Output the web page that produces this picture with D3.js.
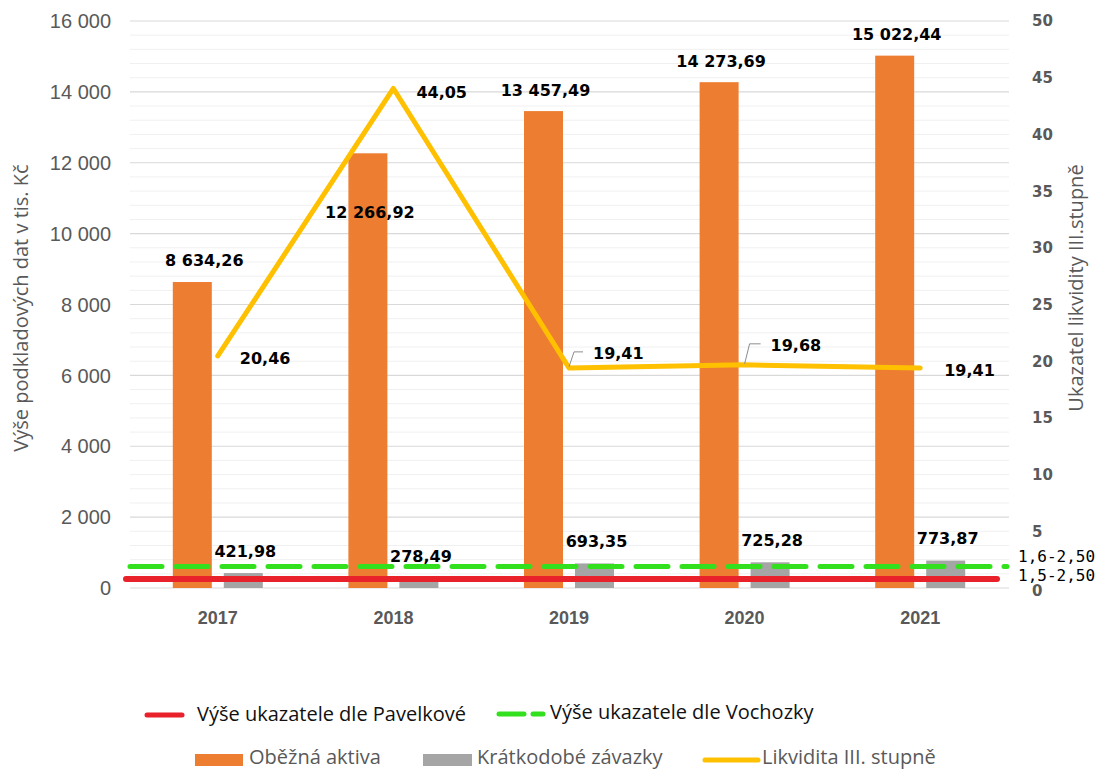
<!DOCTYPE html>
<html lang="cs">
<head>
<meta charset="UTF-8">
<title>Likvidita III. stupně</title>
<style>
  body { margin: 0; background: #fff; }
  svg { display: block; }
  .tick-l { font-family: 'Liberation Sans', Arial, sans-serif; font-size: 20px; fill: #595959; }
  .tick-r { font-family: 'DejaVu Sans', sans-serif; font-weight: bold; font-size: 15px; fill: #595959; }
  .tick-x { font-family: 'Liberation Sans', Arial, sans-serif; font-weight: bold; font-size: 18px; fill: #595959; }
  .axis-title { font-family: 'Open Sans', sans-serif; font-size: 20px; fill: #595959; }
  .val { font-family: 'DejaVu Sans', sans-serif; font-weight: bold; font-size: 16px; fill: #000; }
  .thr { font-family: 'DejaVu Sans Mono', monospace; font-size: 16px; fill: #000; }
  .leg { font-family: 'Open Sans', sans-serif; font-size: 20px; }
</style>
</head>
<body>
<svg id="chart" width="1099" height="771"></svg>
<script src="https://cdn.jsdelivr.net/npm/d3@7"></script>
<script>
// data
const years = ["2017", "2018", "2019", "2020", "2021"];
const obeznaAktiva = [8634.26, 12266.92, 13457.49, 14273.69, 15022.44];
const kratkodobeZavazky = [421.98, 278.49, 693.35, 725.28, 773.87];
const likvidita = [20.46, 44.05, 19.41, 19.68, 19.41];
const leftTicks = [0, 2000, 4000, 6000, 8000, 10000, 12000, 14000, 16000];
const rightTicks = [0, 5, 10, 15, 20, 25, 30, 35, 40, 45, 50];
// benchmark lines (read on the secondary axis)
const pavelkova = 0.8, pavelkovaLabel = "1,5-2,50";
const vochozka = 1.9, vochozkaLabel = "1,6-2,50";

const W = 1099, H = 771;
const plot = { left: 130, right: 1009, top: 21, bottom: 588 };
const colors = { orange: "#ED7D31", gray: "#A5A5A5", yellow: "#FFC000", red: "#E8212A", green: "#33E01E" };

const loc = d3.formatLocale({ decimal: ",", thousands: "\u00a0", grouping: [3], currency: ["", ""] });
const fmt2 = loc.format(",.2f");
const fmt0 = loc.format(",.0f");

const svg = d3.select("#chart");
svg.append("rect").attr("width", W).attr("height", H).attr("fill", "#fff");

const x = d3.scaleBand().domain(years).range([plot.left, plot.right - 1]);
const yL = d3.scaleLinear().domain([0, 16000]).range([plot.bottom, plot.top]);
const yR = d3.scaleLinear().domain([0, 50]).range([plot.bottom, plot.top]);
const xc = d => x(d) + x.bandwidth() / 2;

// gridlines: minor every 400, major every 2000
const minor = d3.range(0, 16001, 400).filter(v => v % 2000 !== 0);
svg.append("g").selectAll("line").data(minor).join("line")
  .attr("x1", plot.left).attr("x2", plot.right)
  .attr("y1", d => yL(d)).attr("y2", d => yL(d))
  .attr("stroke", "#f0f0f0").attr("stroke-width", 1);
svg.append("g").selectAll("line").data(leftTicks).join("line")
  .attr("x1", plot.left).attr("x2", plot.right)
  .attr("y1", d => yL(d)).attr("y2", d => yL(d))
  .attr("stroke", "#d9d9d9").attr("stroke-width", 1.2);

// left axis labels
svg.append("g").selectAll("text").data(leftTicks).join("text")
  .attr("class", "tick-l")
  .attr("x", 111).attr("y", d => yL(d)).attr("dy", "0.36em")
  .attr("text-anchor", "end")
  .text(d => fmt0(d));

// right axis labels
svg.append("g").selectAll("text").data(rightTicks).join("text")
  .attr("class", "tick-r")
  .attr("x", 1032).attr("y", d => yR(d)).attr("dy", d => d === 0 ? "0.55em" : "0.36em")
  .text(d => d);

// axis titles
svg.append("text").attr("class", "axis-title")
  .attr("transform", "translate(28,308) rotate(-90)")
  .attr("text-anchor", "middle")
  .text("Výše podkladových dat v tis. Kč");
svg.append("text").attr("class", "axis-title")
  .attr("transform", "translate(1083,288) rotate(-90)")
  .attr("text-anchor", "middle")
  .text("Ukazatel likvidity III.stupně");

// bars
const barW = 39, gap = 6;
svg.append("g").selectAll("rect").data(years).join("rect")
  .attr("x", d => xc(d) - gap - barW)
  .attr("width", barW)
  .attr("y", (d, i) => yL(obeznaAktiva[i]))
  .attr("height", (d, i) => yL(0) - yL(obeznaAktiva[i]))
  .attr("fill", colors.orange);
svg.append("g").selectAll("rect").data(years).join("rect")
  .attr("x", d => xc(d) + gap)
  .attr("width", barW)
  .attr("y", (d, i) => yL(kratkodobeZavazky[i]))
  .attr("height", (d, i) => yL(0) - yL(kratkodobeZavazky[i]))
  .attr("fill", colors.gray);

// benchmark lines
svg.append("line")
  .attr("x1", plot.left - 4).attr("x2", plot.right - 12)
  .attr("y1", yR(pavelkova)).attr("y2", yR(pavelkova))
  .attr("stroke", colors.red).attr("stroke-width", 6).attr("stroke-linecap", "round");
svg.append("line")
  .attr("x1", plot.left).attr("x2", plot.right - 2)
  .attr("y1", yR(vochozka)).attr("y2", yR(vochozka))
  .attr("stroke", colors.green).attr("stroke-width", 5)
  .attr("stroke-dasharray", "32 14").attr("stroke-linecap", "round");
svg.append("text").attr("class", "thr")
  .attr("x", 1018).attr("y", yR(vochozka) - 10).attr("dy", "0.35em").text(vochozkaLabel);
svg.append("text").attr("class", "thr")
  .attr("x", 1018).attr("y", yR(pavelkova) - 4).attr("dy", "0.35em").text(pavelkovaLabel);

// liquidity line
const line = d3.line().x((d, i) => xc(years[i])).y(d => yR(d));
svg.append("path").datum(likvidita)
  .attr("d", line)
  .attr("fill", "none")
  .attr("stroke", colors.yellow).attr("stroke-width", 5)
  .attr("stroke-linejoin", "round").attr("stroke-linecap", "round");

// data labels
const orangeShift = [[12, -22], [2, 59], [2, -21], [2, -21], [2, -21]];
svg.append("g").selectAll("text").data(years).join("text")
  .attr("class", "val").attr("text-anchor", "middle").attr("dy", "0.36em")
  .attr("x", (d, i) => xc(d) - gap - barW / 2 + orangeShift[i][0])
  .attr("y", (d, i) => yL(obeznaAktiva[i]) + orangeShift[i][1])
  .text((d, i) => fmt2(obeznaAktiva[i]));

svg.append("g").selectAll("text").data(years).join("text")
  .attr("class", "val").attr("text-anchor", "middle").attr("dy", "0.36em")
  .attr("x", d => xc(d) + gap + barW / 2 + 2)
  .attr("y", (d, i) => yL(kratkodobeZavazky[i]) - 22)
  .text((d, i) => fmt2(kratkodobeZavazky[i]));

const lineShift = [[22, 2], [23, 4], [24, -15], [26, -20], [24, 2]];
const leader = [false, false, true, true, false];
years.forEach((yr, i) => {
  const px = xc(yr), py = yR(likvidita[i]);
  const [dx, dy] = lineShift[i];
  if (leader[i]) {
    svg.append("polyline")
      .attr("points", [[px, py - 1], [px + 5, py + dy - 1], [px + dx - 10, py + dy - 1]].map(p => p.join(",")).join(" "))
      .attr("fill", "none").attr("stroke", "#8c8c8c").attr("stroke-width", 1);
  }
  svg.append("text").attr("class", "val")
    .attr("x", px + dx).attr("y", py + dy).attr("dy", "0.36em")
    .text(fmt2(likvidita[i]));
});

// x labels
svg.append("g").selectAll("text").data(years).join("text")
  .attr("class", "tick-x").attr("text-anchor", "middle")
  .attr("x", d => xc(d)).attr("y", 618).attr("dy", "0.36em")
  .text(d => d);

// legend
const lg = svg.append("g");
lg.append("line").attr("x1", 147).attr("x2", 182).attr("y1", 715).attr("y2", 715)
  .attr("stroke", colors.red).attr("stroke-width", 5).attr("stroke-linecap", "round");
lg.append("text").attr("class", "leg").attr("fill", "#111")
  .attr("x", 197).attr("y", 714).attr("dy", "0.35em").text("Výše ukazatele dle Pavelkové");
lg.append("line").attr("x1", 499).attr("x2", 543).attr("y1", 714).attr("y2", 714)
  .attr("stroke", colors.green).attr("stroke-width", 5)
  .attr("stroke-dasharray", "25 9").attr("stroke-linecap", "round");
lg.append("text").attr("class", "leg").attr("fill", "#111")
  .attr("x", 550).attr("y", 712).attr("dy", "0.35em").text("Výše ukazatele dle Vochozky");

lg.append("rect").attr("x", 195).attr("y", 754).attr("width", 48).attr("height", 12).attr("fill", colors.orange);
lg.append("text").attr("class", "leg").attr("fill", "#595959")
  .attr("x", 249).attr("y", 757).attr("dy", "0.35em").text("Oběžná aktiva");
lg.append("rect").attr("x", 423).attr("y", 754).attr("width", 49).attr("height", 12).attr("fill", colors.gray);
lg.append("text").attr("class", "leg").attr("fill", "#595959")
  .attr("x", 477).attr("y", 757).attr("dy", "0.35em").text("Krátkodobé závazky");
lg.append("line").attr("x1", 705).attr("x2", 758).attr("y1", 760).attr("y2", 760)
  .attr("stroke", colors.yellow).attr("stroke-width", 5).attr("stroke-linecap", "round");
lg.append("text").attr("class", "leg").attr("fill", "#595959")
  .attr("x", 762).attr("y", 757).attr("dy", "0.35em").text("Likvidita III. stupně");
</script>
</body>
</html>
